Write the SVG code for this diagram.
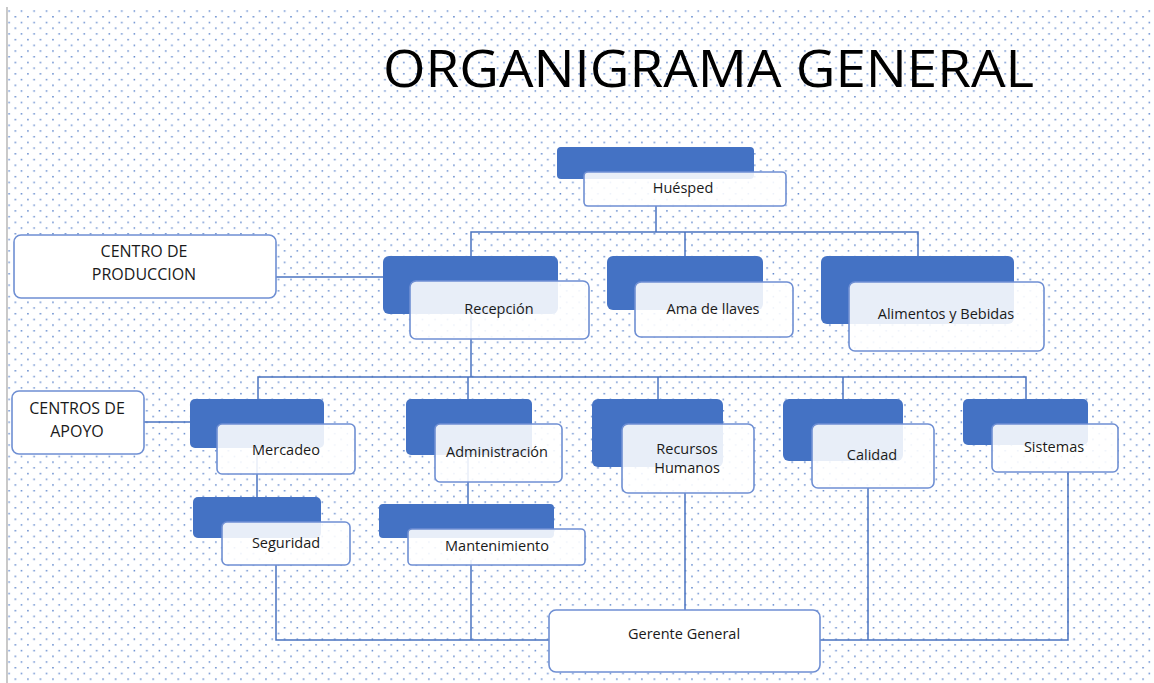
<svg xmlns="http://www.w3.org/2000/svg" width="1154" height="683" viewBox="0 0 1154 683">
  <style>
    .lbl { font-family: "Open Sans", "Liberation Sans", sans-serif; font-size: 14.5px; fill: #1A1A1A; text-anchor: middle; }
    .side { font-family: "Open Sans", "Liberation Sans", sans-serif; font-size: 16px; fill: #1A1A1A; text-anchor: middle; }
    .title { font-family: "Open Sans", "Liberation Sans", sans-serif; font-size: 52px; fill: #000; }
    .back { fill: #4472C4; }
    .front { fill: #FFFFFF; fill-opacity: 0.88; stroke: #6F8FD3; stroke-width: 1.6; }
    .solid { fill: #FFFFFF; stroke: #6F8FD3; stroke-width: 1.6; }
    .wire { fill: none; stroke: #4A73C0; stroke-width: 1.5; }
  </style>
  <defs>
    <pattern id="dots" patternUnits="userSpaceOnUse" x="0" y="-3" width="12.53" height="11.42">
      <rect x="8.3" y="1.9" width="1.5" height="1.5" fill="#4472C4" opacity="0.85"/>
      <rect x="2.1" y="7.6" width="1.5" height="1.5" fill="#4472C4" opacity="0.85"/>
    </pattern>
  </defs>

  <!-- page -->
  <rect x="0" y="0" width="1154" height="683" fill="#FFFFFF"/>
  <rect x="8" y="7" width="1146" height="676" fill="url(#dots)"/>
  <line x1="7" y1="7" x2="7" y2="683" stroke="#C4C4C4" stroke-width="1.8"/>

  <text class="title" x="383" y="87" textLength="651" lengthAdjust="spacingAndGlyphs">ORGANIGRAMA GENERAL</text>

  <!-- connectors -->
  <g id="connectors">
    <polyline class="wire" points="656,206 656,232"/>
    <polyline class="wire" points="471,257 471,232 918,232 918,256"/>
    <line class="wire" x1="685" y1="232" x2="685" y2="256"/>
    <line class="wire" x1="276" y1="277" x2="383" y2="277"/>
    <line class="wire" x1="471" y1="282" x2="471" y2="377"/>
    <polyline class="wire" points="258,399 258,377 1026,377 1026,399"/>
    <line class="wire" x1="468" y1="377" x2="468" y2="399"/>
    <line class="wire" x1="658" y1="377" x2="658" y2="399"/>
    <line class="wire" x1="843" y1="377" x2="843" y2="399"/>
    <line class="wire" x1="144" y1="422" x2="190" y2="422"/>
    <line class="wire" x1="257" y1="440" x2="257" y2="497"/>
    <line class="wire" x1="468" y1="455" x2="468" y2="504"/>
    <polyline class="wire" points="276,565 276,640 549,640"/>
    <line class="wire" x1="471" y1="560" x2="471" y2="640"/>
    <line class="wire" x1="685" y1="493" x2="685" y2="610"/>
    <polyline class="wire" points="820,640 1068,640 1068,472"/>
    <line class="wire" x1="868" y1="488" x2="868" y2="640"/>
  </g>

  <!-- nodes -->
  <g id="huesped">
    <rect class="back" x="557" y="147" width="197" height="32" rx="4"/>
    <rect class="front" x="584" y="172" width="202" height="34" rx="4"/>
    <text class="lbl" x="683" y="193">Huésped</text>
  </g>

  <g id="centro-produccion">
    <rect class="solid" x="14" y="235" width="262" height="63" rx="7"/>
    <text class="side" x="144" y="257">CENTRO DE</text>
    <text class="side" x="144" y="280">PRODUCCION</text>
  </g>

  <g id="recepcion">
    <rect class="back" x="383" y="256" width="175" height="58" rx="6"/>
    <rect class="front" x="410" y="281" width="179" height="58" rx="6"/>
    <text class="lbl" x="499" y="314">Recepción</text>
  </g>

  <g id="ama-de-llaves">
    <rect class="back" x="607" y="256" width="156" height="54" rx="6"/>
    <rect class="front" x="635" y="282" width="158" height="55" rx="6"/>
    <text class="lbl" x="713" y="314">Ama de llaves</text>
  </g>

  <g id="alimentos-bebidas">
    <rect class="back" x="821" y="256" width="193" height="68" rx="6"/>
    <rect class="front" x="849" y="282" width="195" height="69" rx="6"/>
    <text class="lbl" x="946" y="319">Alimentos y Bebidas</text>
  </g>

  <g id="centros-apoyo">
    <rect class="solid" x="12" y="391" width="132" height="63" rx="7"/>
    <text class="side" x="77" y="414">CENTROS DE</text>
    <text class="side" x="77" y="437">APOYO</text>
  </g>

  <g id="mercadeo">
    <rect class="back" x="190" y="399" width="134" height="49" rx="5"/>
    <rect class="front" x="217" y="424" width="138" height="50" rx="5"/>
    <text class="lbl" x="286" y="455">Mercadeo</text>
  </g>

  <g id="seguridad">
    <rect class="back" x="193" y="497" width="128" height="41" rx="5"/>
    <rect class="front" x="222" y="522" width="128" height="43" rx="5"/>
    <text class="lbl" x="286" y="548">Seguridad</text>
  </g>

  <g id="administracion">
    <rect class="back" x="406" y="399" width="126" height="56" rx="5"/>
    <rect class="front" x="435" y="424" width="127" height="58" rx="5"/>
    <text class="lbl" x="497" y="457">Administración</text>
  </g>

  <g id="mantenimiento">
    <rect class="back" x="379" y="504" width="175" height="34" rx="4"/>
    <rect class="front" x="408" y="529" width="177" height="36" rx="4"/>
    <text class="lbl" x="497" y="551">Mantenimiento</text>
  </g>

  <g id="recursos-humanos">
    <rect class="back" x="592" y="399" width="131" height="68" rx="6"/>
    <rect class="front" x="622" y="424" width="132" height="69" rx="6"/>
    <text class="lbl" x="687" y="454">Recursos</text>
    <text class="lbl" x="687" y="473">Humanos</text>
  </g>

  <g id="calidad">
    <rect class="back" x="783" y="399" width="120" height="62" rx="6"/>
    <rect class="front" x="812" y="424" width="122" height="64" rx="6"/>
    <text class="lbl" x="872" y="460">Calidad</text>
  </g>

  <g id="sistemas">
    <rect class="back" x="963" y="399" width="125" height="46" rx="5"/>
    <rect class="front" x="992" y="424" width="126" height="48" rx="5"/>
    <text class="lbl" x="1054" y="452">Sistemas</text>
  </g>

  <g id="gerente-general">
    <rect class="solid" x="549" y="610" width="271" height="62" rx="7"/>
    <text class="lbl" x="684" y="639">Gerente General</text>
  </g>
</svg>
